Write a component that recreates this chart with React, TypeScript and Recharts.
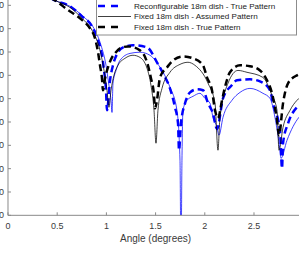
import { LineChart, Line, XAxis, YAxis, Legend } from "recharts";

// angle axis (degrees) and gain axis (dB) ticks
const angleTicks = [0, 0.5, 1, 1.5, 2, 2.5, 3];
const gainTicks = [-40, -30, -20, -10, 0, 10, 20, 30, 40, 50, 60];

// Reconfigurable 18m dish - Assumed Pattern (thin blue)
const reconfAssumedAngle = [
  0, 0.15, 0.3, 0.4, 0.478, 0.63, 0.762, 0.874, 0.945, 0.996,
  1.026, 1.047, 1.057, 1.067, 1.098, 1.138, 1.24, 1.341, 1.443, 1.545,
  1.646, 1.717, 1.748, 1.758, 1.768, 1.778, 1.819, 1.88, 1.951, 2.002,
  2.053, 2.083, 2.124, 2.144, 2.185, 2.276, 2.358, 2.459, 2.591, 2.663,
  2.713, 2.764, 2.774, 2.835, 2.957, 3.0,
];
const reconfAssumedGain = [
  58, 57.3, 55.5, 53.8, 52.1, 49.6, 45.3, 40.1, 32.9, 24.3,
  15.7, 9.3, 4.1, 16.6, 22.1, 26.4, 29.4, 29.9, 28.6, 23.4,
  14.9, 5.0, -16.4, -60, -16.4, 5.0, 9.3, 11.0, 12.3, 10.1,
  8.0, 2.0, -2.3, -5.7, 2.0, 9.3, 12.7, 14.4, 12.3, 10.1,
  2.0, -12.1, -15.6, -7.9, 2.0, 3.7,
];

// Reconfigurable 18m dish - True Pattern (thick blue dashed)
const reconfTrueAngle = [
  0, 0.15, 0.3, 0.4, 0.478, 0.63, 0.752, 0.854, 0.915, 0.955,
  0.976, 0.996, 1.006, 1.037, 1.067, 1.118, 1.169, 1.27, 1.413, 1.514,
  1.575, 1.646, 1.697, 1.728, 1.738, 1.758, 1.799, 1.85, 1.921, 1.982,
  2.033, 2.083, 2.124, 2.185, 2.226, 2.256, 2.327, 2.459, 2.561, 2.663,
  2.693, 2.764, 2.785, 2.795, 2.846, 2.937, 3.0,
];
const reconfTrueGain = [
  58, 57.3, 55.5, 53.8, 52.1, 49.6, 45.3, 41.0, 35.0, 28.6,
  22.1, 13.6, 5.0, 17.9, 24.3, 29.9, 32.0, 32.9, 32.0, 25.6,
  20.9, 14.4, 6.3, -0.6, -12.1, -0.6, 8.0, 12.7, 14.0, 13.6,
  8.0, 3.7, -3.0, 10.1, 13.6, 14.9, 17.9, 18.3, 17.4, 13.6,
  8.0, -3.6, -19.9, -9.1, -0.6, 6.3, 8.0,
];

// Fixed 18m dish - Assumed Pattern (thin black)
const fixedAssumedAngle = [
  0, 0.15, 0.3, 0.4, 0.478, 0.63, 0.752, 0.854, 0.935, 0.976,
  1.006, 1.026, 1.047, 1.077, 1.118, 1.189, 1.27, 1.341, 1.413, 1.453,
  1.484, 1.504, 1.524, 1.565, 1.646, 1.748, 1.829, 1.9, 2.033, 2.104,
  2.134, 2.154, 2.236, 2.337, 2.429, 2.591, 2.683, 2.734, 2.754, 2.795,
  2.866, 2.937, 3.0,
];
const fixedAssumedGain = [
  58, 57.3, 55.5, 53.8, 52.1, 49.1, 44.4, 39.3, 30.7, 22.1,
  13.6, 6.3, 13.6, 20.0, 24.3, 27.3, 28.6, 27.7, 23.0, 15.7,
  5.0, -9.1, 5.0, 14.4, 21.3, 24.7, 25.6, 24.3, 16.6, 8.0,
  -12.1, 2.0, 16.6, 22.1, 21.3, 19.1, 11.4, 5.0, -12.1, -2.3,
  5.0, 9.3, 11.4,
];

// Fixed 18m dish - True Pattern (thick black dashed)
const fixedTrueAngle = [
  0, 0.15, 0.3, 0.4, 0.478, 0.6, 0.732, 0.833, 0.884, 0.915,
  0.935, 0.955, 0.965, 0.986, 1.016, 1.057, 1.087, 1.138, 1.22, 1.341,
  1.413, 1.453, 1.484, 1.494, 1.514, 1.545, 1.616, 1.677, 1.778, 1.88,
  1.982, 2.022, 2.073, 2.104, 2.134, 2.175, 2.205, 2.256, 2.358, 2.459,
  2.561, 2.632, 2.683, 2.734, 2.754, 2.795, 2.846, 2.937, 3.0,
];
const fixedTrueGain = [
  58, 57.3, 55.5, 53.8, 52.1, 48.3, 44.4, 40.1, 35.9, 29.9,
  24.3, 18.7, 13.6, 18.7, 23.4, 27.7, 29.4, 31.6, 32.4, 30.7,
  25.6, 18.7, 11.4, 5.9, 9.3, 19.1, 23.4, 26.4, 28.1, 27.3,
  24.3, 19.1, 13.6, 5.0, 1.6, 9.3, 14.9, 21.3, 24.3, 23.9,
  22.1, 17.9, 12.3, 0.7, -5.7, 8.0, 16.6, 20.0, 20.9,
];

const toPoints = (angles: number[], gains: number[]) =>
  angles.map((a, i) => ({ angle: a, gain: gains[i] }));

const series = [
  { name: "Reconfigurable 18m dish - Assumed Pattern", color: "#0000ff", dashed: false, width: 0.75, data: toPoints(reconfAssumedAngle, reconfAssumedGain) },
  { name: "Reconfigurable 18m dish - True Pattern", color: "#0000ff", dashed: true, width: 2.5, data: toPoints(reconfTrueAngle, reconfTrueGain) },
  { name: "Fixed 18m dish - Assumed Pattern", color: "#000000", dashed: false, width: 0.75, data: toPoints(fixedAssumedAngle, fixedAssumedGain) },
  { name: "Fixed 18m dish - True Pattern", color: "#000000", dashed: true, width: 2.5, data: toPoints(fixedTrueAngle, fixedTrueGain) },
];

const FONT = '"Liberation Sans", Arial, Helvetica, sans-serif';
const AXIS = "#8a8a8a";
const TEXT = "#3a3a3a";

// MATLAB style: ticks point into the axes
const YTick = (props: any) => {
  const { x, y, payload } = props;
  return (
    <g>
      <line x1={x + 4} x2={x + 7} y1={y} y2={y} stroke={AXIS} />
      <text x={x} y={y} dy="0.33em" textAnchor="end" fontSize={9} fill={TEXT} fontFamily={FONT}>
        {payload.value}
      </text>
    </g>
  );
};

const XTick = (props: any) => {
  const { x, y, payload } = props;
  return (
    <g>
      <line x1={x} x2={x} y1={y - 8} y2={y - 11} stroke={AXIS} />
      <text x={x} y={y} dy={5.5} textAnchor="middle" fontSize={9} fill={TEXT} fontFamily={FONT}>
        {payload.value}
      </text>
    </g>
  );
};

// first row sits above the visible crop, like in the reference
const rowY = [5.5, 18, 28.5, 39];

const LegendBox = () => (
  <svg width={202} height={48} style={{ display: "block" }}>
    <rect x={0.5} y={0.5} width={200} height={46.5} fill="#fff" stroke="#8c8c8c" />
    {series.map((s, i) => {
      const cy = rowY[i];
      return (
        <g key={s.name}>
          <line
            x1={2} x2={s.dashed ? 22 : 35} y1={cy} y2={cy}
            stroke={s.color} strokeWidth={s.dashed ? 2.5 : 0.75}
            strokeDasharray={s.dashed ? "7 6" : undefined}
          />
          <text x={38} y={cy} dy="0.35em" fontSize={8.1} fill="#222" fontFamily={FONT}>
            {s.name}
          </text>
        </g>
      );
    })}
  </svg>
);

export default function App() {
  return (
    <div style={{ position: "fixed", left: 0, top: 0, width: 299, height: 258, overflow: "hidden", background: "#fff" }}>
      <div style={{ position: "absolute", left: -32, top: -38.33 }}>
        <LineChart width={345.2} height={283.33} margin={{ top: 20, right: 10, bottom: 0, left: 0 }}>
          <XAxis
            dataKey="angle" type="number" domain={[0, 3]} ticks={angleTicks} allowDataOverflow
            height={30} tickSize={0} tickMargin={8} tickLine={false} tick={<XTick />}
            axisLine={{ stroke: AXIS }}
            label={{ value: "Angle (degrees)", position: "insideBottom", offset: 3.5, fontSize: 10, fill: TEXT, fontFamily: FONT }}
          />
          <YAxis
            type="number" domain={[-40, 60]} ticks={gainTicks} allowDataOverflow
            width={40} tickSize={0} tickMargin={4} tickLine={false} tick={<YTick />}
            axisLine={{ stroke: AXIS }}
          />
          <Legend
            layout="vertical" align="center" verticalAlign="middle"
            content={() => <LegendBox />}
            wrapperStyle={{ left: 128, top: 26.33, width: 202, height: 48 }}
          />
          {series.map((s) => (
            <Line
              key={s.name} name={s.name} data={s.data} dataKey="gain" type="monotone"
              stroke={s.color} strokeWidth={s.width}
              strokeDasharray={s.dashed ? "7 4" : undefined}
              dot={false} activeDot={false} isAnimationActive={false}
            />
          ))}
        </LineChart>
      </div>
    </div>
  );
}
